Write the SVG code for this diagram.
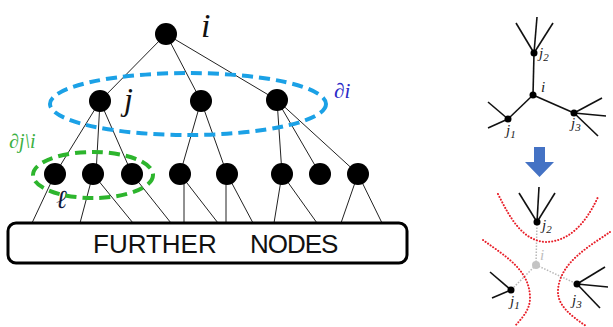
<svg xmlns="http://www.w3.org/2000/svg" width="613" height="327" viewBox="0 0 613 327">
  <style>
    .edge { stroke: #222; stroke-width: 1; fill: none; }
    .spoke { stroke: #111; stroke-width: 1.6; fill: none; }
    .node { fill: #000; }
    .math { font-family: "Liberation Serif", "DejaVu Serif", serif; font-style: italic; }
    .label { font-family: "Liberation Sans", Arial, sans-serif; font-size: 26px; fill: #111; }
    .red { stroke: #E8202A; stroke-width: 2; fill: none; stroke-dasharray: 0.1 3; stroke-linecap: round; }
    .ghost { stroke: #B8B8B8; stroke-width: 1.5; fill: none; stroke-dasharray: 1.5 1.5; }
  </style>
  <rect width="613" height="327" fill="#fff"/>

  <!-- tree connectors -->
  <g id="tree-edges" class="edge">
    <line x1="166" y1="34" x2="100" y2="101"/>
    <line x1="166" y1="34" x2="201" y2="101"/>
    <line x1="166" y1="34" x2="277" y2="100"/>
    <line x1="100" y1="101" x2="55" y2="174"/>
    <line x1="100" y1="101" x2="96" y2="174"/>
    <line x1="100" y1="101" x2="132" y2="174"/>
    <line x1="201" y1="101" x2="180" y2="174"/>
    <line x1="201" y1="101" x2="227" y2="174"/>
    <line x1="277" y1="100" x2="282" y2="174"/>
    <line x1="277" y1="100" x2="320" y2="174"/>
    <line x1="277" y1="100" x2="358" y2="174"/>
    <line x1="55" y1="174" x2="32" y2="223"/>
    <line x1="93" y1="174" x2="80" y2="223"/>
    <line x1="93" y1="174" x2="133" y2="223"/>
    <line x1="132" y1="174" x2="171" y2="223"/>
    <line x1="184" y1="174" x2="184" y2="223"/>
    <line x1="180" y1="174" x2="218" y2="223"/>
    <line x1="226" y1="174" x2="226" y2="223"/>
    <line x1="227" y1="174" x2="253" y2="223"/>
    <line x1="282" y1="174" x2="274" y2="223"/>
    <line x1="282" y1="174" x2="317" y2="223"/>
    <line x1="358" y1="174" x2="341" y2="223"/>
    <line x1="358" y1="174" x2="382" y2="223"/>
  </g>

  <!-- root -->
  <g id="node-i">
    <circle class="node" cx="166" cy="34" r="11"/>
    <text class="math" x="201" y="37" font-size="34" fill="#111">i</text>
  </g>

  <!-- neighbourhood of i -->
  <g id="node-j">
    <circle class="node" cx="100" cy="101" r="11"/>
    <text class="math" x="124" y="110" font-size="32" fill="#111">j</text>
  </g>
  <g id="node-b"><circle class="node" cx="201" cy="101" r="11"/></g>
  <g id="node-c"><circle class="node" cx="277" cy="100" r="11"/></g>

  <!-- lower level -->
  <g id="node-l">
    <circle class="node" cx="55" cy="174" r="11"/>
    <text class="math" x="56" y="208" font-size="26" fill="#10183A">ℓ</text>
  </g>
  <g id="node-l2"><circle class="node" cx="93" cy="174" r="11"/></g>
  <g id="node-l3"><circle class="node" cx="132" cy="174" r="11"/></g>
  <g id="node-l4"><circle class="node" cx="180" cy="174" r="11"/></g>
  <g id="node-l5"><circle class="node" cx="227" cy="174" r="11"/></g>
  <g id="node-l6"><circle class="node" cx="282" cy="174" r="11"/></g>
  <g id="node-l7"><circle class="node" cx="320" cy="174" r="11"/></g>
  <g id="node-l8"><circle class="node" cx="358" cy="174" r="11"/></g>

  <!-- highlighted sets -->
  <g id="set-di">
    <ellipse cx="188" cy="104" rx="138" ry="31" fill="none" stroke="#1BA1E6" stroke-width="4" stroke-dasharray="11 6"/>
    <text class="math" x="334" y="98" font-size="21" fill="#2A2AC8">∂i</text>
  </g>
  <g id="set-dj">
    <ellipse cx="93" cy="175" rx="60" ry="23" fill="none" stroke="#2DB52D" stroke-width="4" stroke-dasharray="11 6"/>
    <text class="math" x="9" y="148" font-size="20" fill="#3CB043">∂j\i</text>
  </g>

  <!-- further nodes box -->
  <g id="further">
    <rect x="8" y="223" width="399" height="40" rx="8" fill="#fff" stroke="#000" stroke-width="3"/>
    <text class="label" x="93" y="253">FURTHER</text>
    <text class="label" x="250" y="253" letter-spacing="-1">NODES</text>
  </g>

  <!-- star graph -->
  <g id="star">
    <g class="spoke">
      <line x1="533" y1="95" x2="534" y2="53"/>
      <line x1="533" y1="95" x2="508" y2="119"/>
      <line x1="533" y1="95" x2="574" y2="113"/>
      <line x1="534" y1="53" x2="516" y2="23"/>
      <line x1="534" y1="53" x2="537" y2="17"/>
      <line x1="534" y1="53" x2="553" y2="23"/>
      <line x1="508" y1="119" x2="488" y2="102"/>
      <line x1="508" y1="119" x2="488" y2="128"/>
      <line x1="574" y1="113" x2="602" y2="98"/>
      <line x1="574" y1="113" x2="606" y2="116"/>
      <line x1="574" y1="113" x2="598" y2="136"/>
    </g>
    <circle class="node" cx="533" cy="95" r="3.5"/>
    <circle class="node" cx="534" cy="53" r="3.5"/>
    <circle class="node" cx="508" cy="119" r="3.5"/>
    <circle class="node" cx="574" cy="113" r="3.5"/>
    <g class="math" font-size="15" fill="#222">
      <text x="539" y="58">j<tspan font-size="11" dy="3">2</tspan></text>
      <text x="541" y="92">i</text>
      <text x="506" y="135">j<tspan font-size="11" dy="3">1</tspan></text>
      <text x="571" y="128">j<tspan font-size="11" dy="3">3</tspan></text>
    </g>
  </g>

  <!-- arrow -->
  <g id="arrow">
    <path d="M534 147 H545 V162 H554 L539.5 177 L525 162 H534 Z" fill="#4472C4"/>
  </g>

  <!-- split star graph -->
  <g id="split">
    <g class="ghost">
      <line x1="536" y1="265" x2="537" y2="222"/>
      <line x1="536" y1="265" x2="511" y2="290"/>
      <line x1="536" y1="265" x2="577" y2="284"/>
    </g>
    <circle cx="536" cy="265" r="4" fill="#C4C4C4"/>
    <g class="spoke">
      <line x1="537" y1="222" x2="519" y2="193"/>
      <line x1="537" y1="222" x2="539" y2="187"/>
      <line x1="537" y1="222" x2="555" y2="193"/>
      <line x1="511" y1="290" x2="490" y2="272"/>
      <line x1="511" y1="290" x2="492" y2="298"/>
      <line x1="577" y1="284" x2="605" y2="267"/>
      <line x1="577" y1="284" x2="608" y2="287"/>
      <line x1="577" y1="284" x2="600" y2="308"/>
    </g>
    <circle class="node" cx="537" cy="222" r="3.5"/>
    <circle class="node" cx="511" cy="290" r="3.5"/>
    <circle class="node" cx="577" cy="284" r="3.5"/>
    <path class="red" d="M498 194 C510 218 522 240 545 242 C568 242 585 225 598 197"/>
    <path class="red" d="M483 240 C505 256 530 270 530 298 C530 310 522 318 515 326"/>
    <path class="red" d="M610 232 C590 246 560 262 558 290 C557 305 570 315 586 326"/>
    <g class="math" font-size="15" fill="#222">
      <text x="542" y="230">j<tspan font-size="11" dy="3">2</tspan></text>
      <text x="540" y="260" fill="#BDBDBD">i</text>
      <text x="510" y="306">j<tspan font-size="11" dy="3">1</tspan></text>
      <text x="572" y="305">j<tspan font-size="11" dy="3">3</tspan></text>
    </g>
  </g>
</svg>
